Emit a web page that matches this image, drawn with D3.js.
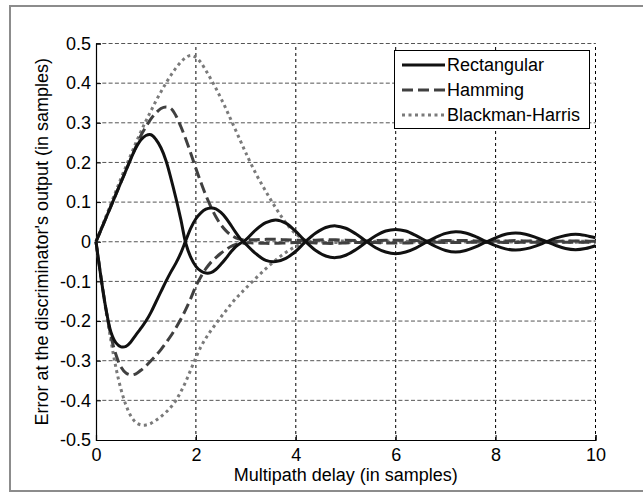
<!DOCTYPE html>
<html>
<head>
<meta charset="UTF-8">
<script src="https://d3js.org/d3.v7.min.js"></script>
<style>
  body { margin: 0; background: #fff; }
  svg { display: block; font-family: Arial, "Liberation Sans", sans-serif; }
  .grid line.gx { stroke: #000; stroke-width: 1; stroke-dasharray: 3,3; }
  .grid line.gy { stroke: #555; stroke-width: 1; stroke-dasharray: 4,2.3; }
</style>
</head>
<body>
<div id="chart"></div>
<script>
// delays (samples)
const delays = [
  0, 0.1, 0.2, 0.3, 0.4, 0.5, 0.6, 0.7, 0.8, 0.9, 1.0, 1.1, 1.2, 1.3, 1.4, 1.5, 1.6, 1.7, 1.8, 1.9,
  2.0, 2.1, 2.2, 2.3, 2.4, 2.5, 2.6, 2.7, 2.8, 2.9, 3.0,
  3.2, 3.4, 3.6, 3.8, 4.0, 4.2, 4.4, 4.6, 4.8, 5.0, 5.2, 5.4, 5.6, 5.8, 6.0, 6.2, 6.4, 6.6, 6.8,
  7.0, 7.2, 7.4, 7.6, 7.8, 8.0, 8.2, 8.4, 8.6, 8.8, 9.0, 9.2, 9.4, 9.6, 9.8, 10.0
];

const rectUpper = [
  0, 0.03, 0.06, 0.09, 0.12, 0.15, 0.18, 0.21, 0.237, 0.257, 0.268, 0.27, 0.258, 0.237, 0.205, 0.16, 0.11, 0.055, -0.005, -0.04,
  -0.062, -0.074, -0.079, -0.078, -0.07, -0.057, -0.042, -0.026, -0.012, -0.003, 0.005,
  0.03, 0.048, 0.055, 0.047, 0.026, 0.0, -0.022, -0.036, -0.04, -0.034, -0.02, -0.002, 0.015, 0.027, 0.031, 0.027, 0.016, 0.002, -0.012,
  -0.022, -0.026, -0.022, -0.013, -0.001, 0.01, 0.019, 0.022, 0.019, 0.011, 0.001, -0.009, -0.017, -0.02, -0.017, -0.01
];
const rectLower = [
  0, -0.09, -0.17, -0.228, -0.255, -0.265, -0.264, -0.252, -0.235, -0.218, -0.2, -0.178, -0.152, -0.126, -0.1, -0.076, -0.054, -0.028, 0.004, 0.035,
  0.058, 0.073, 0.082, 0.085, 0.083, 0.074, 0.06, 0.042, 0.023, 0.006, -0.006,
  -0.03, -0.047, -0.05, -0.042, -0.024, 0.001, 0.022, 0.036, 0.04, 0.034, 0.02, 0.002, -0.015, -0.026, -0.03, -0.026, -0.016, -0.002, 0.011,
  0.021, 0.025, 0.022, 0.013, 0.001, -0.01, -0.018, -0.021, -0.018, -0.011, -0.001, 0.009, 0.016, 0.019, 0.016, 0.01
];
const hammUpper = [
  0, 0.03, 0.06, 0.09, 0.12, 0.15, 0.18, 0.21, 0.24, 0.268, 0.29, 0.31, 0.325, 0.336, 0.34, 0.336, 0.318, 0.29, 0.258, 0.222,
  0.185, 0.15, 0.117, 0.088, 0.063, 0.043, 0.028, 0.017, 0.01, 0.006, 0.005,
  0.005, 0.006, 0.006, 0.005, 0.004, 0.003, 0.004, 0.005, 0.005, 0.004, 0.003, 0.002, 0.003, 0.004, 0.004, 0.004, 0.003, 0.002, 0.002,
  0.003, 0.003, 0.003, 0.002, 0.001, 0.002, 0.002, 0.003, 0.002, 0.002, 0.001, 0.001, 0.002, 0.002, 0.002, 0.001
];
const hammLower = [
  0, -0.09, -0.17, -0.238, -0.285, -0.316, -0.331, -0.336, -0.333, -0.324, -0.313, -0.3, -0.287, -0.272, -0.255, -0.237, -0.217, -0.195, -0.17, -0.142,
  -0.112, -0.088, -0.068, -0.052, -0.04, -0.029, -0.02, -0.012, -0.007, -0.004, -0.003,
  -0.003, -0.004, -0.004, -0.003, -0.002, -0.002, -0.003, -0.004, -0.004, -0.003, -0.002, -0.001, -0.002, -0.003, -0.003, -0.003, -0.002, -0.001, -0.001,
  -0.002, -0.002, -0.002, -0.001, -0.001, -0.001, -0.002, -0.002, -0.001, -0.001, -0.001, -0.001, -0.001, -0.001, -0.001, -0.001
];
const bhUpper = [
  0, 0.032, 0.064, 0.096, 0.128, 0.16, 0.19, 0.22, 0.25, 0.278, 0.305, 0.33, 0.355, 0.378, 0.4, 0.42, 0.438, 0.453, 0.465, 0.47,
  0.465, 0.452, 0.432, 0.41, 0.387, 0.362, 0.336, 0.308, 0.28, 0.252, 0.224,
  0.172, 0.127, 0.085, 0.048, 0.02, 0.004, 0.0, 0.001, 0.002, 0.002, 0.001, 0.0, 0.001, 0.002, 0.002, 0.001, 0.0, 0.001, 0.002,
  0.002, 0.001, 0.0, 0.001, 0.001, 0.001, 0.001, 0.0, 0.001, 0.001, 0.001, 0.0, 0.001, 0.001, 0.001, 0.0
];
const bhLower = [
  0, -0.092, -0.175, -0.25, -0.318, -0.372, -0.412, -0.44, -0.456, -0.462, -0.462, -0.458, -0.45, -0.441, -0.43, -0.417, -0.4, -0.378, -0.352, -0.322,
  -0.292, -0.265, -0.243, -0.224, -0.207, -0.19, -0.174, -0.158, -0.143, -0.13, -0.117,
  -0.092, -0.068, -0.046, -0.027, -0.012, -0.003, 0.0, -0.001, -0.002, -0.002, -0.001, 0.0, -0.001, -0.002, -0.002, -0.001, 0.0, -0.001, -0.002,
  -0.002, -0.001, 0.0, -0.001, -0.001, -0.001, -0.001, 0.0, -0.001, -0.001, -0.001, 0.0, -0.001, -0.001, -0.001, 0.0
];

const legendNames = ["Rectangular", "Hamming", "Blackman-Harris"];
const xTicks = [0, 2, 4, 6, 8, 10];
const yTicks = [-0.5, -0.4, -0.3, -0.2, -0.1, 0, 0.1, 0.2, 0.3, 0.4, 0.5];

const styles = [
  { color: "#111111", dash: null },
  { color: "#404040", dash: "11,5" },
  { color: "#7a7a7a", dash: "3,3.5" }
];
const series = [
  { s: 2, values: bhUpper }, { s: 2, values: bhLower },
  { s: 1, values: hammUpper }, { s: 1, values: hammLower },
  { s: 0, values: rectUpper }, { s: 0, values: rectLower }
];

const W = 643, H = 494;
const FS = 18;
const svg = d3.select("#chart").append("svg").attr("width", W).attr("height", H);

// outer figure frame
svg.append("rect").attr("x", 10).attr("y", 6).attr("width", 680).attr("height", 485)
  .attr("fill", "#fff").attr("stroke", "#8c8c8c").attr("stroke-width", 2);

const x = d3.scaleLinear().domain([0, 10]).range([96, 595.5]);
const y = d3.scaleLinear().domain([-0.5, 0.5]).range([440, 43.5]);

// grid
const grid = svg.append("g").attr("class", "grid");
grid.selectAll(".gx").data(xTicks.slice(1)).enter().append("line").attr("class", "gx")
  .attr("x1", d => x(d)).attr("x2", d => x(d)).attr("y1", y(-0.5)).attr("y2", y(0.5));
grid.selectAll(".gy").data(yTicks.slice(1)).enter().append("line").attr("class", "gy")
  .attr("x1", x(0)).attr("x2", x(10)).attr("y1", d => y(d)).attr("y2", d => y(d));

// axes (MATLAB style, ticks inside)
const fmtY = d => d === 0 ? "0" : d3.format(".1f")(d).replace("\u2212", "-");
const xAxis = svg.append("g").attr("transform", `translate(0,${y(-0.5)})`)
  .call(d3.axisBottom(x).tickValues(xTicks).tickSize(-5).tickPadding(6).tickFormat(d3.format("d")));
const yAxis = svg.append("g").attr("transform", `translate(${x(0)},0)`)
  .call(d3.axisLeft(y).tickValues(yTicks).tickSize(-5).tickPadding(5).tickFormat(fmtY));
[xAxis, yAxis].forEach(a => {
  a.select(".domain").attr("stroke", "#000").attr("stroke-width", 1.2);
  a.selectAll(".tick line").attr("stroke", "#000");
  a.selectAll("text").attr("font-size", FS).attr("fill", "#000").attr("font-family", "Arial, 'Liberation Sans', sans-serif");
});
xAxis.selectAll("text").attr("dy", "0.85em");

// curves
const line = d3.line()
  .x((d, i) => x(delays[i]))
  .y(d => y(d))
  .curve(d3.curveCatmullRom.alpha(0.5));

svg.append("g").selectAll("path").data(series).enter().append("path")
  .attr("d", d => line(d.values))
  .attr("fill", "none")
  .attr("stroke", d => styles[d.s].color)
  .attr("stroke-width", 3)
  .attr("stroke-dasharray", d => styles[d.s].dash);

// legend
const lg = svg.append("g");
lg.append("rect").attr("x", 394.5).attr("y", 50.5).attr("width", 195).attr("height", 78)
  .attr("fill", "#fff").attr("stroke", "#000").attr("stroke-width", 1);
legendNames.forEach((name, i) => {
  const ly = 65 + i * 25;
  lg.append("line").attr("x1", 402).attr("x2", 445).attr("y1", ly).attr("y2", ly)
    .attr("stroke", styles[i].color).attr("stroke-width", 3)
    .attr("stroke-dasharray", styles[i].dash);
  lg.append("text").attr("x", 447).attr("y", ly).attr("dy", "0.35em")
    .attr("font-size", FS).text(name);
});

// axis labels
svg.append("text").attr("x", x(5)).attr("y", 481).attr("text-anchor", "middle")
  .attr("font-size", FS).text("Multipath delay (in samples)");
svg.append("text").attr("transform", `translate(48,${y(0)}) rotate(-90)`)
  .attr("text-anchor", "middle").attr("font-size", FS)
  .text("Error at the discriminator's output (in samples)");
</script>
</body>
</html>
